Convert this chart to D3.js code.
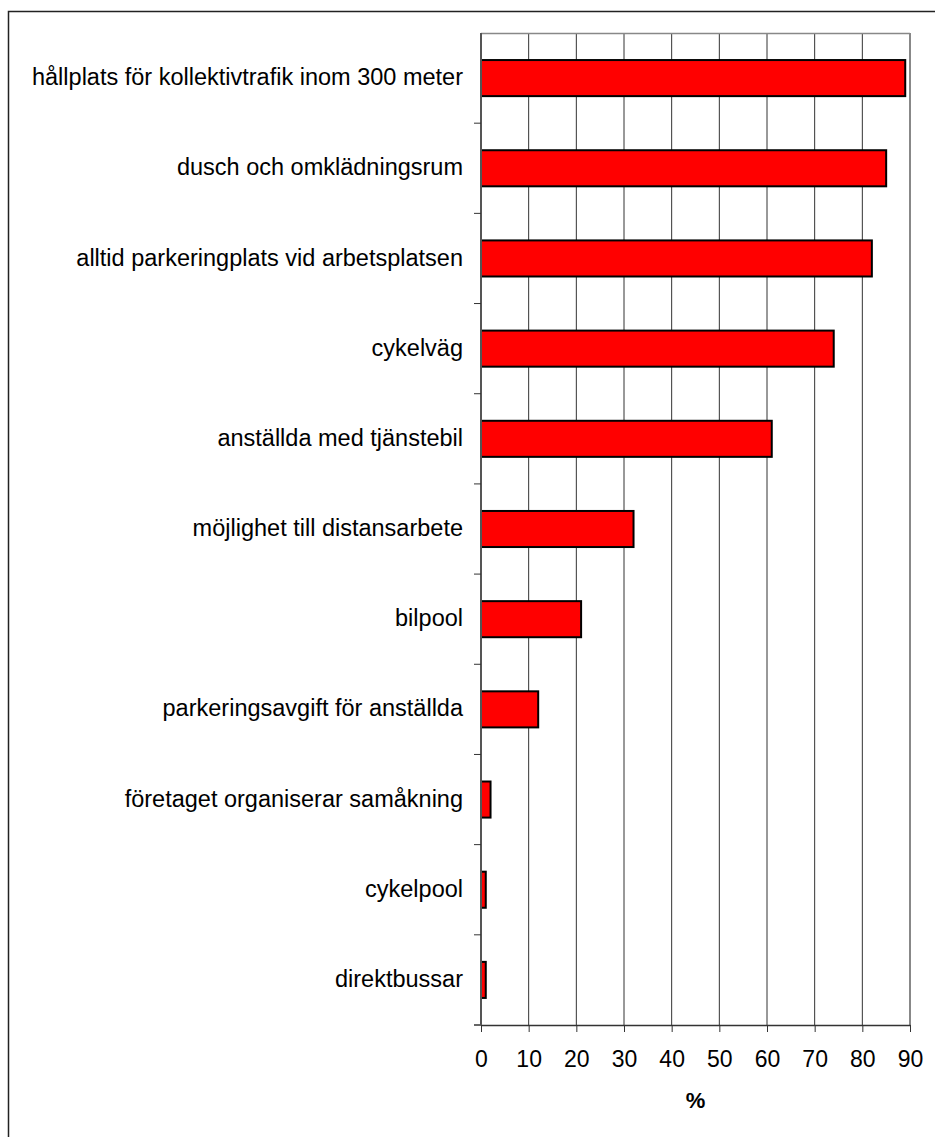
<!DOCTYPE html>
<html><head><meta charset="utf-8">
<script src="https://d3js.org/d3.v7.min.js"></script>
<style>body{margin:0;background:#fff;} svg{display:block;}</style>
</head><body>
<script>
const categories = ["hållplats för kollektivtrafik inom 300 meter","dusch och omklädningsrum","alltid parkeringplats vid arbetsplatsen","cykelväg","anställda med tjänstebil","möjlighet till distansarbete","bilpool","parkeringsavgift för anställda","företaget organiserar samåkning","cykelpool","direktbussar"];
const values = [89,85,82,74,61,32,21,12,2,1,1];
const xTicks = [0,10,20,30,40,50,60,70,80,90];
const xTitle = "%";

const W=935,H=1137;
const FONT="Liberation Sans, Arial, sans-serif";
const svg=d3.select("body").append("svg").attr("width",W).attr("height",H);
svg.append("rect").attr("width",W).attr("height",H).attr("fill","#fff");
// outer border
svg.append("path").attr("d","M8.5,1137 L8.5,11.5 L935,11.5").attr("fill","none").attr("stroke","#222").attr("stroke-width",1.5);

const L=481,R=910,T=33,B=1025;
const x=d3.scaleLinear().domain([0,90]).range([L,R]);
const y=d3.scaleBand().domain(categories).range([T,B]).paddingInner(0.6).paddingOuter(0.3);

// gridlines
svg.append("g").selectAll("line").data(xTicks.slice(1,-1)).join("line")
 .attr("x1",d=>x(d)).attr("x2",d=>x(d)).attr("y1",T).attr("y2",B)
 .attr("stroke","#333").attr("stroke-width",1);
// plot border top/right
svg.append("line").attr("x1",L).attr("x2",R).attr("y1",T+0.5).attr("y2",T+0.5).attr("stroke","#888").attr("stroke-width",1.5);
svg.append("line").attr("x1",R).attr("x2",R).attr("y1",T).attr("y2",B).attr("stroke","#888").attr("stroke-width",2);

// bars
svg.append("g").selectAll("rect").data(values).join("rect")
 .attr("x",x(0)).attr("y",(d,i)=>y(categories[i]))
 .attr("width",d=>x(d)-x(0)).attr("height",y.bandwidth())
 .attr("fill","#ff0000").attr("stroke","#000").attr("stroke-width",2);

// x axis
const xa=svg.append("g").attr("transform",`translate(0,${B})`)
 .call(d3.axisBottom(x).tickValues(xTicks).tickSize(7).tickPadding(19).tickSizeOuter(0));
xa.attr("font-size",null).attr("font-family",null);
xa.select(".domain").attr("stroke","#333").attr("stroke-width",1.5);
xa.selectAll(".tick line").attr("stroke","#333");
xa.selectAll("text").attr("font-family",FONT).attr("font-size",23).attr("fill","#000");
svg.append("line").attr("x1",L-7).attr("x2",L).attr("y1",B).attr("y2",B).attr("stroke","#333").attr("stroke-width",1.5);

// y axis
svg.append("line").attr("x1",L).attr("x2",L).attr("y1",T).attr("y2",B).attr("stroke","#555").attr("stroke-width",2);
const step=y.step();
svg.append("g").selectAll("line").data(d3.range(1,categories.length)).join("line")
 .attr("x1",L-7).attr("x2",L).attr("y1",i=>T+i*step).attr("y2",i=>T+i*step).attr("stroke","#333");
svg.append("g").selectAll("text").data(categories).join("text")
 .attr("x",463).attr("y",d=>y(d)+y.bandwidth()/2).attr("dy","0.3em")
 .attr("text-anchor","end").attr("font-family",FONT).attr("font-size",23.5)
 .text(d=>d);

svg.append("text").attr("x",(L+R)/2).attr("y",1108).attr("text-anchor","middle")
 .attr("font-family",FONT).attr("font-size",22).attr("font-weight","bold").text(xTitle);
</script>
</body></html>
